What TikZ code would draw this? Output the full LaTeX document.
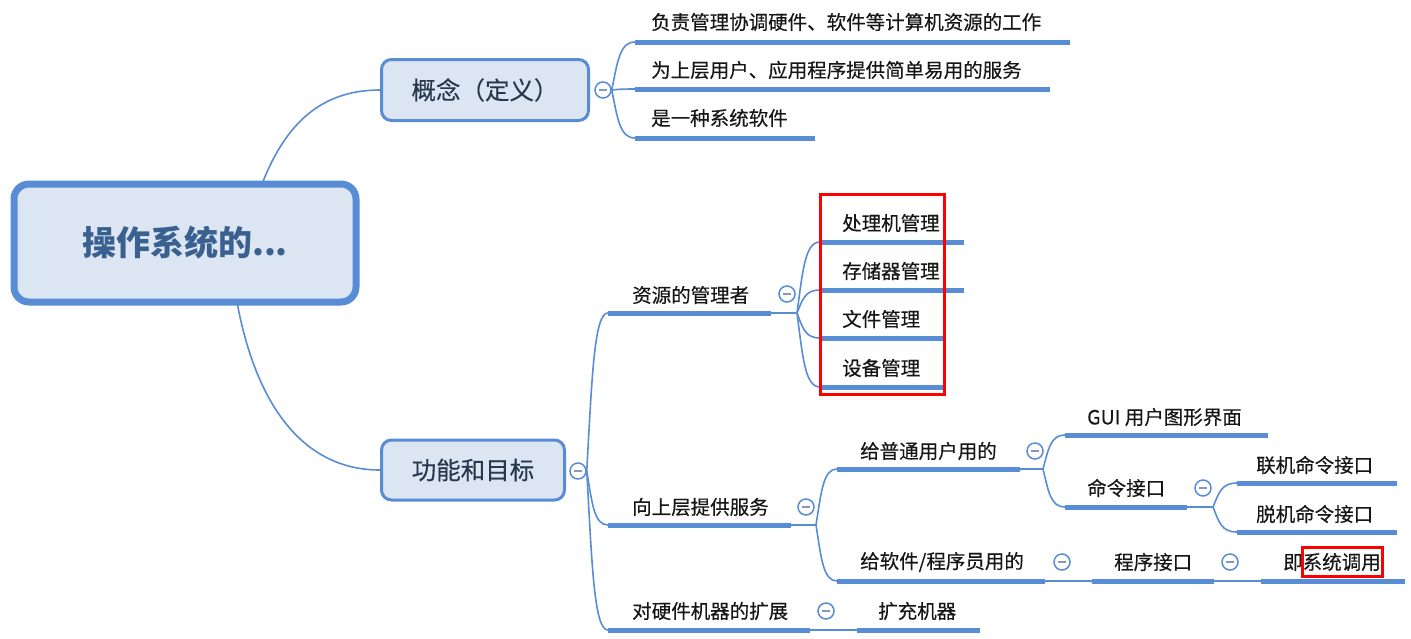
\documentclass[tikz,border=0pt]{standalone}
\usepackage{fontspec}
\newfontfamily\cjk{Noto Sans CJK SC}
\newfontfamily\cjkm[FakeBold=0.35]{Noto Sans CJK SC}
\usetikzlibrary{calc}
\definecolor{lineblue}{RGB}{88,140,212}
\definecolor{boxfill}{RGB}{220,230,242}
\definecolor{boxtext}{RGB}{40,56,78}
\definecolor{roottext}{RGB}{58,96,144}
\definecolor{minusc}{RGB}{135,152,185}
\definecolor{txt}{RGB}{22,22,22}
\tikzset{
  conn/.style={draw=lineblue, line width=1.6pt},
  uline/.style={draw=lineblue, line width=5pt},
  leaf/.style={anchor=west, inner sep=0pt, font=\cjkm\fontsize{19.5}{22}\selectfont, text=txt},
  topic/.style={draw=lineblue, line width=3pt, fill=boxfill, rounded corners=10pt,
    inner sep=0pt, font=\cjkm\fontsize{24.5}{28}\selectfont, text=boxtext},
  rootbox/.style={draw=lineblue, line width=7pt, fill=boxfill, rounded corners=15pt,
    inner sep=0pt, font=\cjk\bfseries\fontsize{34}{38}\selectfont, text=roottext},
  collapse/.style={circle, draw=lineblue, line width=1.5pt, fill=white, minimum size=16pt, inner sep=0pt,
    path picture={\draw[minusc, line width=1.6pt] ($(path picture bounding box.center)+(-4pt,0)$) -- ($(path picture bounding box.center)+(4pt,0)$);}},
  branch/.style={to path={let \p1=(\tikztostart), \p2=(\tikztotarget) in
    .. controls (\x1+0.25*\x2-0.25*\x1, \y1+0.6*\y2-0.6*\y1) and (\x1+0.35*\x2-0.35*\x1, \y2) .. (\tikztotarget)}},
  redbox/.style={draw=red, line width=3pt}
}
\begin{document}
\begin{tikzpicture}[x=1pt,y=-1pt]
\useasboundingbox (0,0) rectangle (1411,638);

% root and main topics
\node[rootbox, minimum width=342pt, minimum height=118pt] (root) at (185,243) {操作系统的...};
\node[topic, minimum width=207pt, minimum height=61pt] (c1) at (485,90) {概念（定义）};
\node[topic, minimum width=183pt, minimum height=60pt] (c2) at (473,470) {功能和目标};
\coordinate (rtop) at (262,184);
\coordinate (rbot) at (237,302);
\draw[conn] (rtop) .. controls (285,125) and (320,90) .. (c1.west);
\draw[conn] (rbot) .. controls (255,400) and (300,470) .. (c2.west);

% concept children
\node[collapse] (k1) at (603,90) {};
\coordinate (t1L) at (635,42); \coordinate (t1R) at (1070,42);
\coordinate (t2L) at (635,89); \coordinate (t2R) at (1050,89);
\coordinate (t3L) at (635,138); \coordinate (t3R) at (815,138);
\draw[conn] (k1.east) to[branch] (t1L);
\draw[conn] (k1.east) to[branch] (t2L);
\draw[conn] (k1.east) to[branch] (t3L);
\draw[uline] (t1L) -- (t1R);
\draw[uline] (t2L) -- (t2R);
\draw[uline] (t3L) -- (t3R);
\node[leaf] (t1) at (651,22) {负责管理协调硬件、软件等计算机资源的工作};
\node[leaf] (t2) at (651,70) {为上层用户、应用程序提供简单易用的服务};
\node[leaf] (t3) at (651,118) {是一种系统软件};

% function children
\node[collapse] (k2) at (578,471) {};
\coordinate (aL) at (608,313); \coordinate (aR) at (771,313); \coordinate (aB) at (797,313);
\coordinate (bL) at (608,525); \coordinate (bR) at (791,525); \coordinate (bB) at (816,525);
\coordinate (dL) at (608,630); \coordinate (dR) at (810,630);
\draw[conn] (k2.east) to[branch] (aL);
\draw[conn] (k2.east) to[branch] (bL);
\draw[conn] (k2.east) to[branch] (dL);
\draw[uline] (aL) -- (aR);
\draw[uline] (bL) -- (bR);
\draw[uline] (dL) -- (dR);
\node[leaf] (a) at (632,295) {资源的管理者};
\node[leaf] (b) at (632,507) {向上层提供服务};
\node[leaf] (d) at (632,611) {对硬件机器的扩展};

% resource manager children
\draw[conn] (aR) -- (aB);
\node[collapse] (ka) at (787,294) {};
\coordinate (a1L) at (820,242); \coordinate (a1R) at (964,242);
\coordinate (a2L) at (820,290); \coordinate (a2R) at (964,290);
\coordinate (a3L) at (820,338); \coordinate (a3R) at (944,338);
\coordinate (a4L) at (820,387); \coordinate (a4R) at (944,387);
\draw[conn] (aB) to[branch] (a1L);
\draw[conn] (aB) to[branch] (a2L);
\draw[conn] (aB) to[branch] (a3L);
\draw[conn] (aB) to[branch] (a4L);
\draw[uline] (a1L) -- (a1R);
\draw[uline] (a2L) -- (a2R);
\draw[uline] (a3L) -- (a3R);
\draw[uline] (a4L) -- (a4R);
\node[leaf] (a1) at (842,223) {处理机管理};
\node[leaf] (a2) at (842,271) {存储器管理};
\node[leaf] (a3) at (842,319) {文件管理};
\node[leaf] (a4) at (842,368) {设备管理};
\draw[redbox] (820,194) rectangle (944,394);

% services children
\draw[conn] (bR) -- (bB);
\node[collapse] (kb) at (806,507) {};
\coordinate (b1L) at (837,469); \coordinate (b1R) at (1020,469); \coordinate (b1B) at (1043,469);
\coordinate (b2L) at (837,581); \coordinate (b2R) at (1045,581);
\draw[conn] (bB) to[branch] (b1L);
\draw[conn] (bB) to[branch] (b2L);
\draw[uline] (b1L) -- (b1R);
\draw[uline] (b2L) -- (b2R);
\node[leaf] (b1) at (860,451) {给普通用户用的};
\node[leaf] (b2) at (860,562) {给软件/程序员用的};

% ordinary users
\draw[conn] (b1R) -- (b1B);
\node[collapse] (kb1) at (1035,451) {};
\coordinate (b11L) at (1065,435); \coordinate (b11R) at (1268,435);
\coordinate (b12L) at (1065,507); \coordinate (b12R) at (1187,507); \coordinate (b12B) at (1213,507);
\draw[conn] (b1B) to[branch] (b11L);
\draw[conn] (b1B) to[branch] (b12L);
\draw[uline] (b11L) -- (b11R);
\draw[uline] (b12L) -- (b12R);
\node[leaf] (b11) at (1087,417) {GUI 用户图形界面};
\node[leaf] (b12) at (1087,488) {命令接口};

\draw[conn] (b12R) -- (b12B);
\node[collapse] (kb12) at (1203,488) {};
\coordinate (b121L) at (1237,483); \coordinate (b121R) at (1397,483);
\coordinate (b122L) at (1237,532); \coordinate (b122R) at (1397,532);
\draw[conn] (b12B) to[branch] (b121L);
\draw[conn] (b12B) to[branch] (b122L);
\draw[uline] (b121L) -- (b121R);
\draw[uline] (b122L) -- (b122R);
\node[leaf] (b121) at (1256,465) {联机命令接口};
\node[leaf] (b122) at (1256,514) {脱机命令接口};

% programmers
\coordinate (b21L) at (1092,581); \coordinate (b21R) at (1214,581);
\coordinate (b211L) at (1261,581); \coordinate (b211R) at (1405,581);
\draw[conn] (b2R) -- (b21L);
\draw[conn] (b21R) -- (b211L);
\node[collapse] (kb2) at (1062,562) {};
\node[collapse] (kb21) at (1230,562) {};
\draw[uline] (b21L) -- (b21R);
\draw[uline] (b211L) -- (b211R);
\node[leaf] (b21) at (1114,562) {程序接口};
\node[leaf] (b211) at (1283,562) {即系统调用};
\draw[redbox] (1302,547) rectangle (1382,576);

% hardware extension
\coordinate (d1L) at (857,630); \coordinate (d1R) at (980,630);
\draw[conn] (dR) -- (d1L);
\node[collapse] (kd) at (826,611) {};
\draw[uline] (d1L) -- (d1R);
\node[leaf] (d1) at (878,611) {扩充机器};
\end{tikzpicture}
\end{document}
